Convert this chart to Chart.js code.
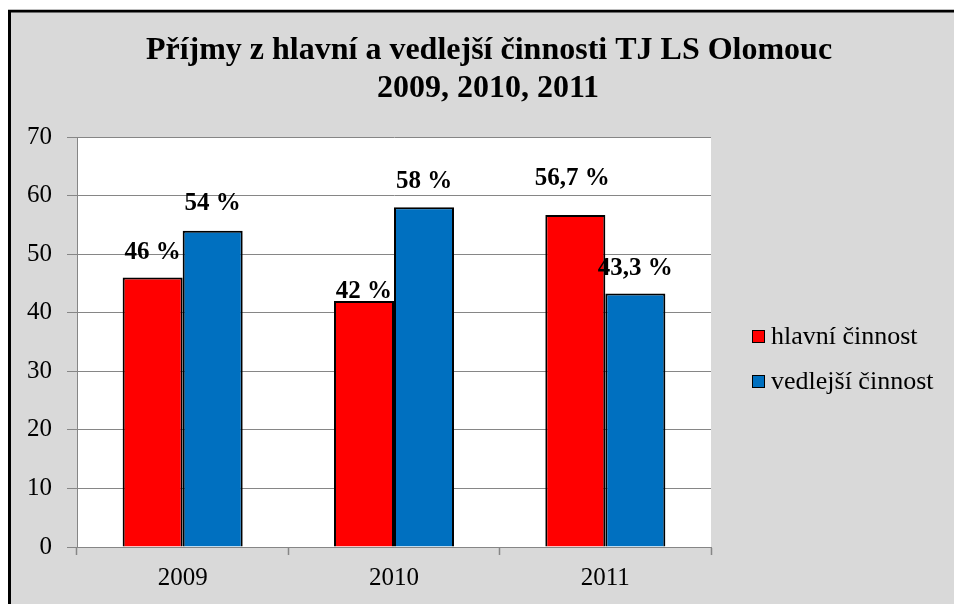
<!DOCTYPE html>
<html>
<head>
<meta charset="utf-8">
<script src="https://cdn.jsdelivr.net/npm/chart.js@4.4.0/dist/chart.umd.min.js"></script>
<style>
  html, body { margin: 0; padding: 0; background: #fff; overflow: hidden; }
  canvas { display: block; }
</style>
</head>
<body>
<canvas id="chart" width="954" height="604"></canvas>
<script>
const years = ["2009", "2010", "2011"];
const hlavni = [46, 42, 56.7];
const vedlejsi = [54, 58, 43.3];
const seriesNames = ["hlavní činnost", "vedlejší činnost"];
const seriesColors = ["#ff0000", "#0070c0"];
const titleLines = ["Příjmy z hlavní a vedlejší činnosti TJ LS Olomouc", "2009, 2010, 2011"];
const yMin = 0, yMax = 70, yStep = 10;

// the labels were moved by hand in the original, so each one has its own lift
const labelLift = [[25, 9, 36], [27, 26, 25]];
const labelShift = [[0, 0, -3], [0, 0, 0]];

const SERIF = "'Liberation Serif', 'Times New Roman', serif";

const framePlugin = {
  id: "frame",
  beforeDraw(chart) {
    const ctx = chart.ctx;
    const a = chart.chartArea;
    ctx.save();
    ctx.fillStyle = "#ffffff";
    ctx.fillRect(0, 0, chart.width, chart.height);
    ctx.fillStyle = "#d9d9d9";
    ctx.fillRect(8, 9, chart.width - 8, chart.height - 9);
    ctx.fillStyle = "#bdbdbd";
    ctx.fillRect(8, 9, chart.width - 8, 1);
    ctx.fillStyle = "#000000";
    ctx.fillRect(8, 10, chart.width - 8, 2.5);
    ctx.fillRect(8, 10, 3, chart.height - 10);
    // plot area
    ctx.fillStyle = "#ffffff";
    ctx.fillRect(a.left, a.top, a.right - a.left, a.bottom - a.top);
    ctx.restore();
  },
  afterDraw(chart) {
    const ctx = chart.ctx;
    ctx.save();
    ctx.fillStyle = "#000";
    ctx.textAlign = "center";
    ctx.textBaseline = "alphabetic";
    ctx.font = "bold 32px " + SERIF;
    ctx.fillText(titleLines[0], 489, 59);
    ctx.fillText(titleLines[1], 488, 97);

    // legend
    const a = chart.chartArea;
    const rowY = [336.5, 381.5];
    ctx.font = "26px " + SERIF;
    ctx.textAlign = "left";
    ctx.textBaseline = "middle";
    chart.data.datasets.forEach((ds, i) => {
      const bx = a.right + 41, by = rowY[i] - 6.5;
      ctx.fillStyle = ds.backgroundColor;
      ctx.fillRect(bx, by, 13, 13);
      ctx.strokeStyle = "#000";
      ctx.lineWidth = 1;
      ctx.strokeRect(bx + 0.5, by + 0.5, 12, 12);
      ctx.fillStyle = "#000";
      ctx.fillText(ds.label, a.right + 60, rowY[i] + 1);
    });
    ctx.restore();
  }
};

const valueLabels = {
  id: "valueLabels",
  afterDatasetsDraw(chart) {
    const ctx = chart.ctx;
    ctx.save();
    ctx.font = "bold 25px " + SERIF;
    ctx.fillStyle = "#000";
    ctx.textAlign = "center";
    ctx.textBaseline = "middle";
    chart.data.datasets.forEach((ds, i) => {
      chart.getDatasetMeta(i).data.forEach((bar, j) => {
        const txt = String(ds.data[j]).replace(".", ",") + " %";
        ctx.fillText(txt, bar.x + labelShift[i][j], bar.y - labelLift[i][j]);
      });
    });
    ctx.restore();
  }
};

const gridGrey = "#868686";

new Chart(document.getElementById("chart"), {
  type: "bar",
  data: {
    labels: years,
    datasets: [
      { label: seriesNames[0], data: hlavni, backgroundColor: seriesColors[0] },
      { label: seriesNames[1], data: vedlejsi, backgroundColor: seriesColors[1] }
    ]
  },
  options: {
    responsive: false,
    animation: false,
    events: [],
    layout: { padding: { top: 137, right: 243, bottom: 12, left: 0 } },
    datasets: {
      bar: {
        categoryPercentage: 0.568,
        barPercentage: 1,
        borderColor: "#000",
        borderWidth: 2,
        borderSkipped: "start"
      }
    },
    plugins: {
      legend: { display: false },
      title: { display: false },
      tooltip: { enabled: false }
    },
    scales: {
      x: {
        afterFit(s) { s.height = 45; },
        grid: {
          offset: true,
          drawOnChartArea: false,
          drawTicks: true,
          tickLength: 8,
          color: gridGrey,
          tickWidth: 1.5
        },
        border: { display: true, color: gridGrey, width: 1 },
        ticks: {
          padding: 8,
          color: "#000",
          font: { family: SERIF, size: 25 }
        }
      },
      y: {
        min: yMin,
        max: yMax,
        afterFit(s) { s.width = 77; },
        grid: {
          color: gridGrey,
          lineWidth: 1,
          drawTicks: true,
          tickLength: 10
        },
        border: { display: true, color: gridGrey, width: 1 },
        ticks: {
          stepSize: yStep,
          padding: 15,
          color: "#000",
          font: { family: SERIF, size: 25 }
        }
      }
    }
  },
  plugins: [framePlugin, valueLabels]
});
</script>
</body>
</html>
